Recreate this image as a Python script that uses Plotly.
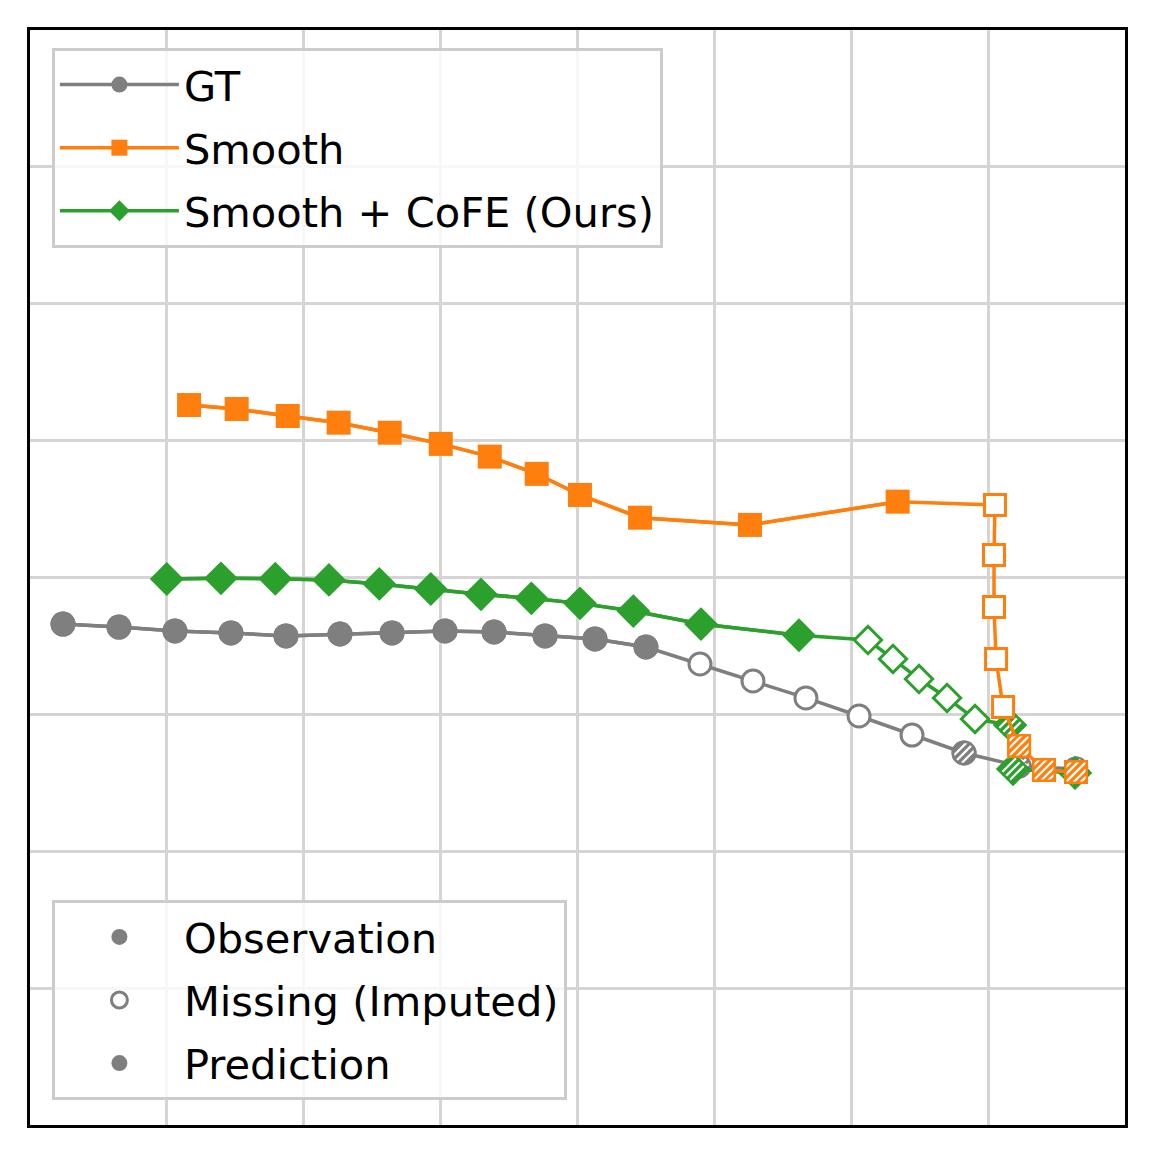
import plotly.graph_objects as go

# point status along each trajectory: P = prediction, M = missing (imputed), O = observation
status = ["P", "P", "P", "P", "P", "P", "P", "P", "P", "P", "P", "P",
          "M", "M", "M", "M", "M",
          "O", "O", "O"]

gt_x = [0.241, 0.650, 1.059, 1.468, 1.870, 2.265, 2.645, 3.032, 3.390, 3.763, 4.128, 4.500,
        4.895, 5.282, 5.669, 6.057, 6.444,
        6.824, 7.226, 7.642]
gt_y = [3.660, 3.638, 3.609, 3.595, 3.573, 3.587, 3.595, 3.609, 3.602, 3.573, 3.551, 3.492,
        3.368, 3.244, 3.120, 2.988, 2.849,
        2.718, 2.623, 2.601]

smooth_x = [1.162, 1.510, 1.883, 2.255, 2.628, 3.001, 3.359, 3.702, 4.018, 4.457, 5.260, 6.339,
            7.050, 7.043, 7.043, 7.058, 7.109,
            7.226, 7.408, 7.642]
smooth_y = [5.260, 5.231, 5.180, 5.131, 5.058, 4.976, 4.883, 4.757, 4.603, 4.437, 4.384, 4.554,
            4.530, 4.164, 3.784, 3.404, 3.054,
            2.769, 2.594, 2.579]

cofe_x = [0.999, 1.395, 1.792, 2.184, 2.552, 2.928, 3.295, 3.663, 4.018, 4.408, 4.902, 5.618,
          6.122, 6.305, 6.495, 6.700, 6.904,
          7.160, 7.182, 7.635]
cofe_y = [3.989, 3.994, 3.991, 3.982, 3.953, 3.916, 3.877, 3.848, 3.811, 3.755, 3.660, 3.578,
          3.543, 3.405, 3.258, 3.120, 2.966,
          2.922, 2.601, 2.572]

GRAY, ORANGE, GREEN = "#7f7f7f", "#ff7f0e", "#2ca02c"
FONT = "DejaVu Sans"


def pick(xs, ys, kind):
    idx = [i for i, s in enumerate(status) if s == kind]
    return [xs[i] for i in idx], [ys[i] for i in idx]


def add_hatch(fig, x, y, stripes):
    # white "////" stripes: rotated line markers pushed sideways with standoff
    for off, length in stripes:
        angles = [-45] if off == 0 else [-45, 135]
        for ang in angles:
            fig.add_trace(go.Scatter(
                x=x, y=y, mode="markers", showlegend=False, hoverinfo="skip",
                marker=dict(symbol="line-ew", size=length, angle=ang, standoff=off,
                            line=dict(color="white", width=2.2))))


methods = [
    # name, xs, ys, color, symbol, filled size, hollow size, stripes, legend rank
    ("GT", gt_x, gt_y, GRAY, "circle", 25, 22, [(0, 18), (5.5, 14)], 1),
    ("Smooth + CoFE (Ours)", cofe_x, cofe_y, GREEN, "diamond", 26, 21, [(0, 19), (5.5, 19)], 3),
    ("Smooth", smooth_x, smooth_y, ORANGE, "square", 24, 21, [(0, 24), (5.5, 16), (10.5, 7)], 2),
]

fig = go.Figure()
for name, xs, ys, color, sym, s_full, s_hollow, stripes, rank in methods:
    fig.add_trace(go.Scatter(x=xs, y=ys, mode="lines", showlegend=False,
                             line=dict(color=color, width=3.5)))
    px, py = pick(xs, ys, "P")
    fig.add_trace(go.Scatter(x=px, y=py, mode="lines+markers", name=name,
                             legend="legend", legendgroup=name, legendrank=rank,
                             line=dict(color=color, width=3.5),
                             marker=dict(symbol=sym, size=s_full, color=color)))
    mx, my = pick(xs, ys, "M")
    ox, oy = pick(xs, ys, "O")
    is_gt = name == "GT"
    fig.add_trace(go.Scatter(x=mx, y=my, mode="markers", name="Missing (Imputed)",
                             showlegend=is_gt, legend="legend2", legendgroup="missing",
                             legendrank=2,
                             marker=dict(symbol=sym, size=s_hollow, color="white",
                                         line=dict(color=color, width=3))))
    fig.add_trace(go.Scatter(x=ox, y=oy, mode="markers", name="Observation",
                             showlegend=is_gt, legend="legend2", legendgroup="obs",
                             legendrank=1,
                             marker=dict(symbol=sym, size=s_full, color=color)))
    add_hatch(fig, ox, oy, stripes)
    fig.add_trace(go.Scatter(x=ox, y=oy, mode="markers", showlegend=False, hoverinfo="skip",
                             marker=dict(symbol=sym, size=s_full - 2.5, color="rgba(0,0,0,0)",
                                         line=dict(color=color, width=2.5))))
    if is_gt:
        fig.add_trace(go.Scatter(x=px, y=py, mode="markers", name="Prediction",
                                 legend="legend2", legendgroup="pred", legendrank=3,
                                 marker=dict(symbol=sym, size=s_full, color=color)))

axis = dict(range=[0, 8], tick0=0, dtick=1, showticklabels=False, ticks="",
            showgrid=True, gridcolor="#d5d5d5", gridwidth=2.5, zeroline=False,
            showline=True, mirror=True, linecolor="black", linewidth=2.5)

legend_style = dict(xanchor="left", bgcolor="rgba(255,255,255,0.8)", bordercolor="#cccccc",
                    borderwidth=3, font=dict(family=FONT, size=41.6, color="black"),
                    itemwidth=119, tracegroupgap=6, traceorder="grouped")

# the page adds an 8 px body margin, so the margins are trimmed to keep the frame at 30..1125
fig.update_layout(
    width=1170, height=1170,
    margin=dict(l=22, r=53, t=22, b=53),
    plot_bgcolor="white", paper_bgcolor="white",
    font=dict(family=FONT, size=41, color="black"),
    xaxis=axis, yaxis=axis,
    legend=dict(x=0.02, y=0.9835, yanchor="top", **legend_style),
    legend2=dict(x=0.02, y=0.0225, yanchor="bottom", **legend_style),
)

fig.write_html("out.html")
